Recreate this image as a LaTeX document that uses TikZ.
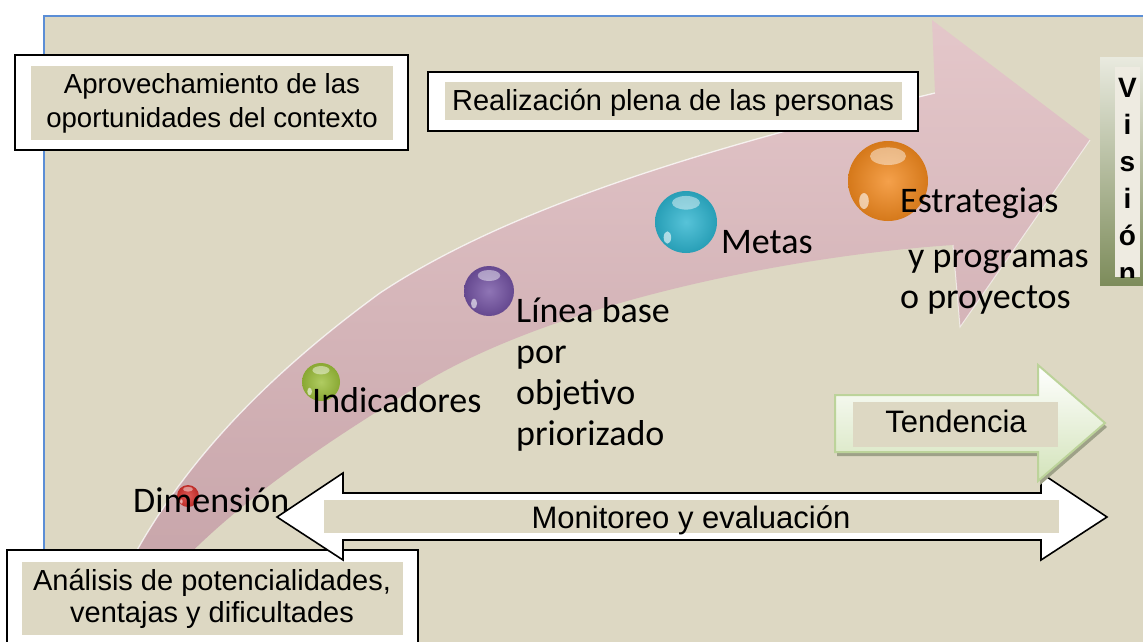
\documentclass[tikz,border=0pt]{standalone}
\usepackage{fontspec}
\setmainfont{Liberation Sans}
\newfontfamily\calibri{Carlito}
\usetikzlibrary{positioning}

\definecolor{panelbg}{HTML}{DDD8C3}
\definecolor{panelline}{HTML}{5B8ED6}
\definecolor{pinkhi}{HTML}{E4C7CA}
\definecolor{pinkmid}{HTML}{D9B9BD}
\definecolor{pinklo}{HTML}{C4A1A6}
\definecolor{greenline}{HTML}{BCD39A}
\definecolor{greenfill}{HTML}{D3E3BA}
\definecolor{greenshadow}{HTML}{9EA188}
\definecolor{vishi}{HTML}{E9EADF}
\definecolor{vislo}{HTML}{7D8C5B}
\definecolor{visin}{HTML}{EEEBE1}
\definecolor{ballred}{HTML}{D8322E}
\definecolor{ballgreen}{HTML}{9CBF3A}
\definecolor{ballpurple}{HTML}{7352A3}
\definecolor{ballcyan}{HTML}{2DB4CF}
\definecolor{ballorange}{HTML}{F2891E}

\tikzset{
  frame/.style={draw=black, line width=1.6pt, fill=white},
  boxtext/.style={inner sep=0pt, align=center, text=black},
  steptext/.style={inner sep=0pt, align=left, anchor=base west,
    font=\calibri\fontsize{36}{41}\selectfont},
  visletter/.style={inner sep=0pt, anchor=base, font=\bfseries\fontsize{28}{28}\selectfont},
}

\begin{document}
\begin{tikzpicture}[x=1pt, y=-1pt]
  \useasboundingbox (0,0) rectangle (1143,641);
  % Panel
  \fill[panelbg] (44,16) rectangle (1160,660);
  \draw[panelline, line width=1.5pt] (44,660) -- (44,16) -- (1160,16);

  % Curved arrow
  \shade[top color=pinkhi, middle color=pinkmid, bottom color=pinklo]
    (95,641) .. controls (140,520) and (220,410) .. (380,293)
    .. controls (520,200) and (740,140) .. (935,93)
    -- (932,20) -- (1090,140) -- (960,327) -- (953,245)
    .. controls (800,255) and (560,300) .. (420,385)
    .. controls (300,458) and (180,540) .. (120,641) -- cycle;
  \draw[white, opacity=.75, line width=1.3pt]
    (95,641) .. controls (140,520) and (220,410) .. (380,293)
    .. controls (520,200) and (740,140) .. (935,93);
  \draw[white, opacity=.6, line width=1pt] (1090,140) -- (960,327) -- (953,245);

  % Balls
  \foreach \i/\x/\y/\r/\c in {1/188/496/11/ballred, 2/321/382/19/ballgreen,
      3/489/291/25/ballpurple, 4/686/222/31/ballcyan, 5/888/181/40/ballorange} {
    \node[circle, inner sep=0pt, minimum size=2*\r pt, shade, shading=radial,
      inner color=\c!80!white, outer color=\c!88!black] (ball\i) at (\x,\y) {};
    \fill[white, opacity=.45] (\x,\y-0.62*\r) ellipse (0.45*\r pt and 0.22*\r pt);
    \fill[white, opacity=.6] (\x-0.6*\r,\y+0.5*\r) ellipse (0.12*\r pt and 0.2*\r pt);
  }

  % Step labels
  \node[steptext] (dimText) at (133,512) {Dimensión};
  \node[steptext] (indText) at (312,412) {Indicadores};
  \node[steptext] (lineaText) at (516,445) {Línea base\\por\\objetivo\\priorizado};
  \node[steptext] (metasText) at (721,253) {Metas};
  \node[steptext] (estrText) at (900,212) {Estrategias};
  \node[steptext] (progText) at (900,308) {\hspace*{8pt}y programas\\o proyectos};

  % Top boxes
  \draw[frame] (15,55) rectangle (408,150);
  \fill[panelbg] (31,66) rectangle (393,140);
  \node[boxtext, anchor=base, font=\fontsize{27.6}{34}\selectfont] (aprovText) at (212,127)
    {Aprovechamiento de las\\oportunidades del contexto};
  \draw[frame] (428,72) rectangle (918,131);
  \fill[panelbg] (445,82) rectangle (902,120);
  \node[boxtext, anchor=base, font=\fontsize{29}{34}\selectfont] (realText) at (673,110)
    {Realización plena de las personas};

  % Bottom box
  \draw[frame] (7,550) rectangle (418,680);
  \fill[panelbg] (22,562) rectangle (403,635);
  \node[boxtext, anchor=base, font=\fontsize{29}{32}\selectfont] (analText) at (212,622)
    {Análisis de potencialidades,\\ventajas y dificultades};

  % Monitoreo
  \draw[frame] (277,517) -- (343,473) -- (343,493) -- (1041,493) -- (1041,473) -- (1107,517)
    -- (1041,560) -- (1041,540) -- (343,540) -- (343,560) -- cycle;
  \fill[panelbg] (324,500) rectangle (1059,533);
  \node[boxtext, anchor=base, font=\fontsize{31}{31}\selectfont] (monText) at (691,528)
    {Monitoreo y evaluación};

  % Tendencia
  \fill[greenshadow] (837,399) -- (1040,399) -- (1040,369) -- (1107,427) -- (1040,485)
    -- (1040,456) -- (837,456) -- cycle;
  \path[draw=greenline, line width=2pt, top color=white, bottom color=greenfill]
    (835,395) -- (1038,395) -- (1038,365) -- (1105,423) -- (1038,481) -- (1038,452) -- (835,452) -- cycle;
  \fill[panelbg] (853,402) rectangle (1058,447);
  \node[boxtext, anchor=base, font=\fontsize{31}{31}\selectfont] (tendText) at (956,432) {Tendencia};

  % Vision
  \shade[top color=vishi, bottom color=vislo] (1100,57) rectangle (1150,285);
  \fill[visin] (1115,67) rectangle (1140,277);
  \begin{scope}
    \clip (1115,67) rectangle (1140,277);
    \foreach \ch [count=\k from 0] in {V,i,s,i,ó,n} {
      \node[visletter] (vis\k) at (1127.5,97+37*\k) {\ch};
    }
  \end{scope}
\end{tikzpicture}
\end{document}
